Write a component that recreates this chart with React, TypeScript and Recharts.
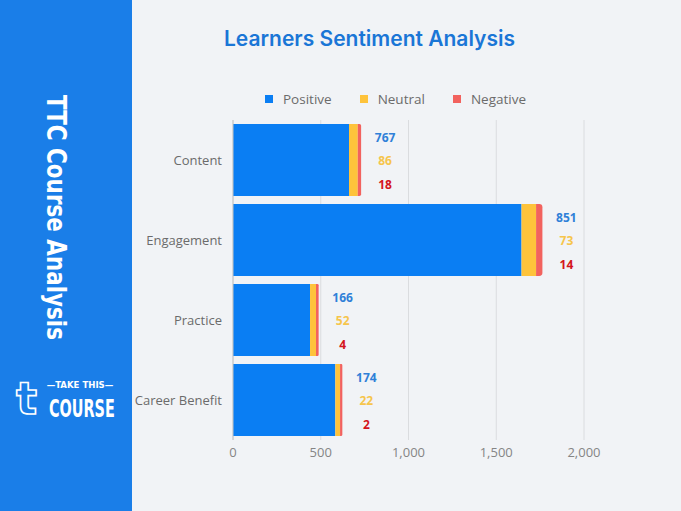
import React from "react";
import {
  BarChart,
  Bar,
  XAxis,
  YAxis,
  CartesianGrid,
  LabelList,
} from "recharts";

// Categories and bar lengths
const categories = ["Content", "Engagement", "Practice", "Career Benefit"];
const positive = [661, 1644, 439, 583];
const neutral = [50, 83, 34, 27];
const negative = [19, 36, 15, 13];

// Counts printed next to each bar
const positiveLabels = [767, 851, 166, 174];
const neutralLabels = [86, 73, 52, 22];
const negativeLabels = [18, 14, 4, 2];

const xTicks = [0, 500, 1000, 1500, 2000];

const COLORS = {
  positive: "#0a7ef3",
  neutral: "#fec33b",
  negative: "#f2625e",
  panel: "#1a7ee8",
  bg: "#f1f3f6",
};

const data = categories.map((name, i) => ({
  name,
  positive: positive[i],
  neutral: neutral[i],
  negative: negative[i],
}));

const FONT = "'Open Sans', 'Noto Sans', sans-serif";

const legendItems = [
  { label: "Positive", color: COLORS.positive },
  { label: "Neutral", color: COLORS.neutral },
  { label: "Negative", color: COLORS.negative },
];

const ChartLegend = () => (
  <div
    style={{
      position: "absolute",
      top: 90,
      left: 0,
      width: 681,
      display: "flex",
      justifyContent: "center",
      gap: 28,
      fontFamily: FONT,
      fontSize: 13.5,
      color: "#6b6b6b",
      paddingLeft: 110,
      boxSizing: "border-box",
    }}
  >
    {legendItems.map((it) => (
      <div key={it.label} style={{ display: "flex", alignItems: "center" }}>
        <span
          style={{
            width: 8,
            height: 8,
            background: it.color,
            display: "inline-block",
            marginRight: 10,
          }}
        />
        {it.label}
      </div>
    ))}
  </div>
);

// three stacked counts to the right of each bar
const CountLabels = (props: any) => {
  const { x, y, width, height, value } = props;
  const i = categories.indexOf(value);
  if (i < 0) return null;
  const cx = x + width + 24;
  const cy = y + height / 2;
  const style = { fontFamily: FONT, fontSize: 12, fontWeight: 700 };
  return (
    <g>
      <text x={cx} y={cy - 23} textAnchor="middle" dominantBaseline="central" fill="#2f80d8" style={style}>
        {positiveLabels[i]}
      </text>
      <text x={cx} y={cy} textAnchor="middle" dominantBaseline="central" fill="#f6c54c" style={style}>
        {neutralLabels[i]}
      </text>
      <text x={cx} y={cy + 24} textAnchor="middle" dominantBaseline="central" fill="#d4161c" style={style}>
        {negativeLabels[i]}
      </text>
    </g>
  );
};

const CONDENSED = "'DejaVu Sans Condensed', 'Liberation Sans Narrow', sans-serif";

const SidePanel = () => (
  <svg
    width={132}
    height={511}
    style={{ position: "absolute", left: 0, top: 0 }}
  >
    <rect x={0} y={0} width={132} height={511} fill={COLORS.panel} />
    <text
      transform="translate(47,95) rotate(90)"
      fill="#fff"
      fontFamily={CONDENSED}
      fontWeight={700}
      fontSize={26}
      textLength={245}
      lengthAdjust="spacingAndGlyphs"
    >
      TTC Course Analysis
    </text>
    {/* take this course logo */}
    <text
      x={16}
      y={414}
      fill="none"
      stroke="#fff"
      strokeWidth={1.6}
      fontFamily="'DejaVu Sans', sans-serif"
      fontWeight={700}
      fontSize={44}
    >
      t
    </text>
    <text
      x={80}
      y={388}
      fill="#fff"
      textAnchor="middle"
      fontFamily={CONDENSED}
      fontWeight={700}
      fontSize={9.5}
    >
      —TAKE THIS—
    </text>
    <text
      transform="translate(49,417) scale(1,1.6)"
      fill="#fff"
      fontFamily={CONDENSED}
      fontWeight={700}
      fontSize={16}
    >
      COURSE
    </text>
  </svg>
);

export default function App() {
  return (
    <div
      style={{
        position: "absolute",
        left: 0,
        top: 0,
        width: 681,
        height: 511,
        background: COLORS.bg,
        overflow: "hidden",
      }}
    >
      <div
        style={{
          position: "absolute",
          top: 26,
          left: 132,
          width: 549,
          textAlign: "center",
          paddingRight: 74,
          boxSizing: "border-box",
          fontFamily: "Inter, 'Open Sans', sans-serif",
          fontWeight: 600,
          fontSize: 21,
          color: "#1a76d6",
        }}
      >
        Learners Sentiment Analysis
      </div>
      <ChartLegend />
      <div style={{ position: "absolute", left: 0, top: 0 }}>
        <BarChart
          width={681}
          height={511}
          data={data}
          layout="vertical"
          barCategoryGap="5%"
          margin={{ top: 120, right: 97, bottom: 41, left: 0 }}
        >
          <CartesianGrid horizontal={false} stroke="#dadcdf" />
          <XAxis
            type="number"
            domain={[0, 2000]}
            ticks={xTicks}
            tickFormatter={(v: number) => v.toLocaleString("en-US")}
            axisLine={false}
            tickLine={false}
            height={30}
            tick={{ fill: "#858585", fontSize: 13, fontFamily: FONT }}
          />
          <YAxis
            type="category"
            dataKey="name"
            width={233}
            axisLine={{ stroke: "#c4c4c4" }}
            tickLine={false}
            tickMargin={5}
            tick={{ fill: "#6b6b6b", fontSize: 13, fontFamily: FONT }}
          />
          <Bar dataKey="positive" stackId="s" fill={COLORS.positive} isAnimationActive={false} />
          <Bar dataKey="neutral" stackId="s" fill={COLORS.neutral} isAnimationActive={false} />
          <Bar
            dataKey="negative"
            stackId="s"
            fill={COLORS.negative}
            radius={[0, 5, 5, 0]}
            isAnimationActive={false}
          >
            <LabelList dataKey="name" content={<CountLabels />} />
          </Bar>
        </BarChart>
      </div>
      <SidePanel />
    </div>
  );
}
